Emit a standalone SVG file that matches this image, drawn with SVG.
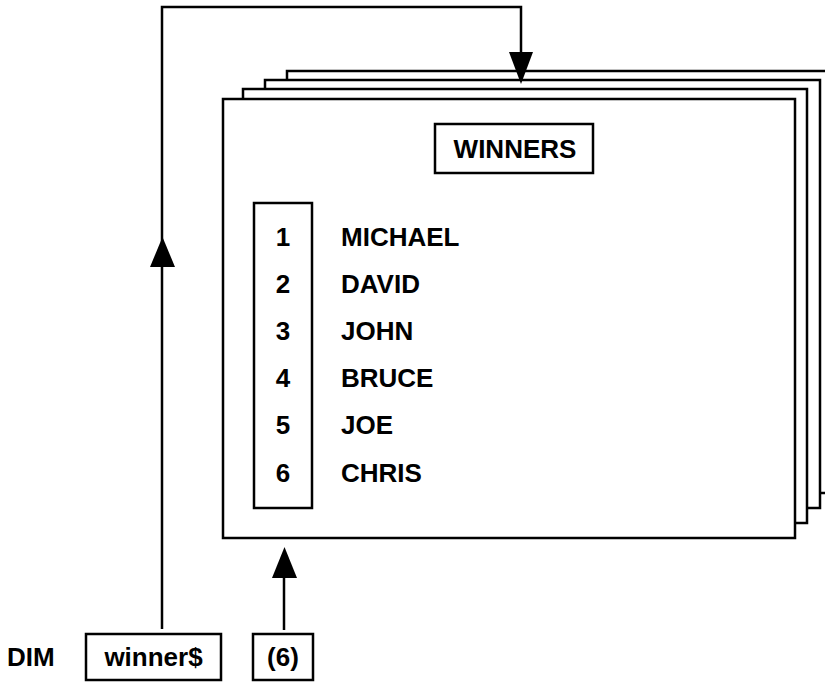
<svg xmlns="http://www.w3.org/2000/svg" width="825" height="682" viewBox="0 0 825 682">
  <style>
    .ln { fill: none; stroke: #000; stroke-width: 2.5; stroke-linejoin: miter; }
    .box { fill: #fff; stroke: #000; stroke-width: 2.5; }
    .tx { font-family: "Liberation Sans", Arial, sans-serif; font-weight: bold; font-size: 26px; fill: #000; }
    .head { fill: #000; stroke: none; }
  </style>
  <rect width="825" height="682" fill="#fff"/>

  <g id="sheets">
    <path class="ln" d="M 287,80 V 71 H 840 V 493 H 820"/>
    <path class="ln" d="M 265,89 V 80 H 820 V 508 H 807"/>
    <path class="ln" d="M 243,99 V 89 H 807 V 523 H 795"/>
    <rect class="box" x="223" y="99" width="572" height="439"/>
  </g>

  <g id="winners-title">
    <rect class="box" x="435" y="124" width="158" height="49"/>
    <text class="tx" x="515" y="158" text-anchor="middle">WINNERS</text>
  </g>

  <g id="index-column">
    <rect class="box" x="254" y="203" width="58" height="305"/>
    <text class="tx" x="283" y="246" text-anchor="middle">1</text>
    <text class="tx" x="283" y="293" text-anchor="middle">2</text>
    <text class="tx" x="283" y="340" text-anchor="middle">3</text>
    <text class="tx" x="283" y="387" text-anchor="middle">4</text>
    <text class="tx" x="283" y="434" text-anchor="middle">5</text>
    <text class="tx" x="283" y="482" text-anchor="middle">6</text>
  </g>

  <g id="names">
    <text class="tx" x="341" y="246">MICHAEL</text>
    <text class="tx" x="341" y="293">DAVID</text>
    <text class="tx" x="341" y="340">JOHN</text>
    <text class="tx" x="341" y="387">BRUCE</text>
    <text class="tx" x="341" y="434">JOE</text>
    <text class="tx" x="341" y="482">CHRIS</text>
  </g>

  <g id="dim-label">
    <text class="tx" x="7" y="666">DIM</text>
  </g>

  <g id="winner-var">
    <rect class="box" x="86" y="634" width="135" height="46"/>
    <text class="tx" x="153.5" y="666" text-anchor="middle">winner$</text>
  </g>

  <g id="size-var">
    <rect class="box" x="253" y="634" width="60" height="46"/>
    <text class="tx" x="283" y="666" text-anchor="middle">(6)</text>
  </g>

  <g id="connectors">
    <path class="ln" d="M 162,629 V 7 H 521 V 54"/>
    <polygon class="head" points="150,267 175,267 162.5,237"/>
    <polygon class="head" points="509,52 533,52 521,84"/>
    <path class="ln" d="M 284,630 V 576"/>
    <polygon class="head" points="272,578 297,578 284.5,547"/>
  </g>
</svg>
